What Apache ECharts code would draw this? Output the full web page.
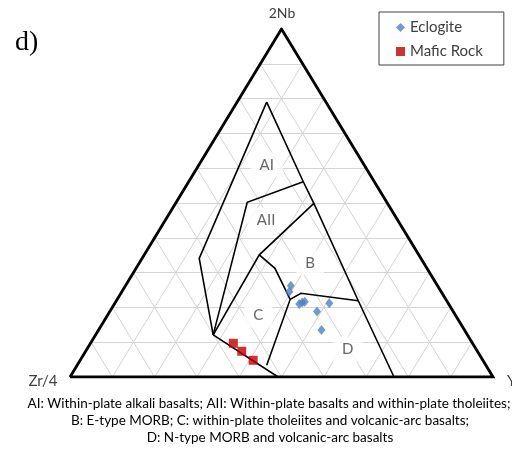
<!DOCTYPE html>
<html><head><meta charset="utf-8">
<script src="https://cdn.jsdelivr.net/npm/echarts@6/dist/echarts.min.js"></script>
<style>html,body{margin:0;padding:0;background:#fff}#c{width:512px;height:452px}</style>
</head><body><div id="c"></div>
<script>
// Ternary coordinates given as [2Nb, Zr/4, Y] in percent
const cornerLabels = ['2Nb', 'Zr/4', 'Y'];
const panelLabel = 'd)';
const seriesNames = ['Eclogite', 'Mafic Rock'];
const eclogite = [
  [26.2, 34.7, 39.1], [24.5, 35.9, 39.6], [21.0, 35.3, 43.7], [21.4, 34.4, 44.2],
  [21.6, 33.7, 44.7], [21.2, 28.1, 50.7], [18.8, 32.2, 49.0], [13.5, 33.8, 52.7]
];
const maficRock = [[9.7, 56.6, 33.8], [7.4, 55.7, 36.9], [4.8, 54.3, 40.9]];
const fieldNames = ['AI', 'AII', 'B', 'C', 'D'];
const fieldLabelPoints = [[60.9, 23.0, 16.0], [45.1, 31.1, 23.8], [32.8, 26.8, 40.3], [17.8, 46.6, 35.6], [8.0, 30.3, 61.6]];
const boundaryOuter = [[78.9, 14.0, 7.0], [34.1, 52.4, 13.5], [12.1, 60.1, 27.8]];
const boundaryRight = [[78.9, 14.0, 7.0], [56.1, 16.8, 27.1], [49.9, 17.4, 32.7], [21.9, 20.9, 57.2], [0, 23.4, 76.6]];
const boundaryAIAII = [[56.1, 16.8, 27.1], [50.2, 33.0, 16.8], [12.1, 60.1, 27.8]];
const boundaryAIIB = [[49.9, 17.4, 32.7], [35.1, 37.7, 27.2], [12.1, 60.1, 27.8]];
const boundaryBC = [[35.1, 37.7, 27.2], [31.2, 35.9, 32.8], [22.3, 36.8, 40.9], [3.4, 51.8, 44.8]];
const boundaryBD = [[22.3, 36.8, 40.9], [24.1, 33.4, 42.6], [21.9, 20.9, 57.2]];
const boundaryLower = [[12.1, 60.1, 27.8], [0, 50.8, 49.2]];
const gridTicks = [10, 20, 30, 40, 50, 60, 70, 80, 90];
const captionLines = [
  'AI: Within-plate alkali basalts; AII: Within-plate basalts and within-plate tholeiites;',
  'B: E-type MORB; C: within-plate tholeiites and volcanic-arc basalts;',
  'D: N-type MORB and volcanic-arc basalts'
];

function tern(p) { // [Nb, Zr, Y] -> cartesian
  const s = p[0] + p[1] + p[2];
  const nb = p[0] / s, y = p[2] / s;
  return [y + nb / 2, nb];
}

const gridCoords = [];
gridTicks.forEach(function (k) {
  gridCoords.push({coords: [tern([k, 100 - k, 0]), tern([k, 0, 100 - k])]});
  gridCoords.push({coords: [tern([0, 100 - k, k]), tern([100 - k, 0, k])]});
  gridCoords.push({coords: [tern([0, k, 100 - k]), tern([100 - k, k, 0])]});
});
const boundaries = [boundaryOuter, boundaryRight, boundaryAIAII, boundaryAIIB, boundaryBC, boundaryBD, boundaryLower]
  .map(function (b) { return {coords: b.map(tern)}; });
const triangle = [{coords: [[0, 100, 0], [0, 0, 100], [100, 0, 0], [0, 100, 0]].map(tern)}];

const font = 'Lato, "Noto Sans", sans-serif';
const chart = echarts.init(document.getElementById('c'), null, {renderer: 'canvas'});
chart.setOption({
  animation: false,
  backgroundColor: '#fff',
  grid: {left: 70, right: 19, top: 29, bottom: 75},
  xAxis: {type: 'value', min: 0, max: 1, show: false},
  yAxis: {type: 'value', min: 0, max: 1, show: false},
  legend: {
    data: seriesNames,
    orient: 'vertical',
    left: 379, top: 12,
    padding: [8, 21, 6, 17],
    itemWidth: 9, itemHeight: 9, itemGap: 9,
    borderColor: '#404040', borderWidth: 1, borderRadius: 0,
    textStyle: {fontFamily: font, fontSize: 15, color: '#404040'}
  },
  graphic: [
    {type: 'text', left: 15, top: 29, style: {text: panelLabel, font: '28px "Liberation Serif", "DejaVu Serif", serif', fill: '#000'}},
    {type: 'text', x: 282, y: 13, style: {text: cornerLabels[0], font: '14px ' + font, fill: '#404040', align: 'center', verticalAlign: 'middle'}},
    {type: 'text', x: 43, y: 381, style: {text: cornerLabels[1], font: '15px ' + font, fill: '#404040', align: 'center', verticalAlign: 'middle'}},
    {type: 'text', x: 507, y: 381, style: {text: cornerLabels[2], font: '15px ' + font, fill: '#404040', align: 'left', verticalAlign: 'middle'}},
    {type: 'text', x: 269, y: 404, style: {text: captionLines[0], font: '13.5px ' + font, fill: '#000', align: 'center', verticalAlign: 'middle'}},
    {type: 'text', x: 270, y: 421, style: {text: captionLines[1], font: '13.5px ' + font, fill: '#000', align: 'center', verticalAlign: 'middle'}},
    {type: 'text', x: 270, y: 438, style: {text: captionLines[2], font: '13.5px ' + font, fill: '#000', align: 'center', verticalAlign: 'middle'}}
  ],
  series: [
    {type: 'lines', coordinateSystem: 'cartesian2d', z: 1, silent: true,
      lineStyle: {color: '#d4d4d4', width: 1, opacity: 1}, data: gridCoords},
    {type: 'scatter', z: 2, silent: true, symbolSize: 0,
      data: fieldLabelPoints.map(function (p, i) { return {name: fieldNames[i], value: tern(p)}; }),
      label: {show: true, position: 'inside', formatter: '{b}', fontFamily: font, fontSize: 15, color: '#404040',
        backgroundColor: '#fff', padding: [5, 9]}},
    {type: 'lines', coordinateSystem: 'cartesian2d', z: 3, silent: true, polyline: true,
      lineStyle: {color: '#000', width: 1.6, opacity: 1}, data: boundaries},
    {type: 'lines', coordinateSystem: 'cartesian2d', z: 4, silent: true, polyline: true,
      lineStyle: {color: '#000', width: 2.8, opacity: 1, join: 'miter'}, data: triangle},
    {name: seriesNames[0], type: 'scatter', z: 5, symbol: 'diamond', symbolSize: [8, 10],
      itemStyle: {color: '#4F81BD'}, data: eclogite.map(tern)},
    {name: seriesNames[1], type: 'scatter', z: 5, symbol: 'rect', symbolSize: 9,
      itemStyle: {color: '#C00000'}, data: maficRock.map(tern)}
  ]
});
</script></body></html>
